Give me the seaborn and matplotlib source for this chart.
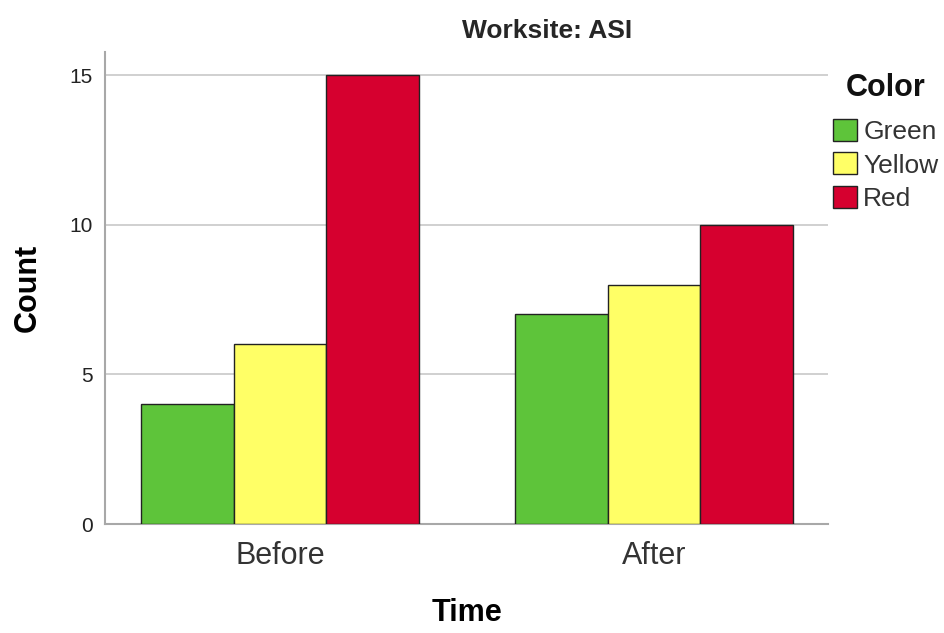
import pandas as pd
import matplotlib
matplotlib.use("Agg")
import matplotlib.pyplot as plt
import seaborn as sns

# data
times = ["Before", "After"]
colors = ["Green", "Yellow", "Red"]
counts_green = [4, 7]
counts_yellow = [6, 8]
counts_red = [15, 10]

palette = {"Green": "#5EC43A", "Yellow": "#FFFF66", "Red": "#D6002F"}

rows = []
for i, t in enumerate(times):
    rows.append({"Time": t, "Color": "Green", "Count": counts_green[i]})
    rows.append({"Time": t, "Color": "Yellow", "Count": counts_yellow[i]})
    rows.append({"Time": t, "Color": "Red", "Count": counts_red[i]})
df = pd.DataFrame(rows)

sns.set_style("white")
plt.rcParams['font.family'] = ['Liberation Sans', 'DejaVu Sans']

W, H = 944, 633
fig = plt.figure(figsize=(W / 100, H / 100), dpi=100)
ax = fig.add_axes([105 / W, 1 - 524 / H, (828 - 105) / W, (524 - 52) / H])

sns.barplot(data=df, x="Time", y="Count", hue="Color", order=times,
            hue_order=colors, palette=palette, width=0.742,
            edgecolor="#222222", linewidth=1.0, saturation=1, ax=ax, zorder=3)

ax.set_xlim(-0.468, 1.465)
ax.set_ylim(0, 15.77)
ax.set_yticks([0, 5, 10, 15])
ax.yaxis.grid(True, color="#c8c8c8", linewidth=1.2, zorder=0)
ax.set_axisbelow(True)
for s in ["top", "right"]:
    ax.spines[s].set_visible(False)
for s in ["left", "bottom"]:
    ax.spines[s].set_color("#a8a8a8")
    ax.spines[s].set_linewidth(1.5)
ax.tick_params(axis="y", length=0, labelsize=15, pad=9, labelcolor="#222222")
ax.tick_params(axis="x", length=0, labelsize=22, pad=12, labelcolor="#333333")

ax.set_xlabel("Time", fontsize=22, fontweight="bold", labelpad=20, color="black")
ax.set_ylabel("Count", fontsize=22, fontweight="bold", labelpad=19, color="black")

fig.text(547 / W, 1 - 38 / H, "Worksite: ASI", ha="center", va="baseline",
         fontsize=19, fontweight="bold")

# legend title drawn separately so its spacing can be matched
fig.text(846 / W, 1 - 96 / H, "Color", ha="left", va="baseline",
         fontsize=22, fontweight="bold", color="#111111")
leg = ax.legend(loc="center left", bbox_to_anchor=(833 / W, 1 - 165 / H),
                bbox_transform=fig.transFigure, frameon=False, fontsize=19,
                handlelength=0.9, handleheight=0.9, handletextpad=0.25,
                labelspacing=0.33, borderaxespad=0, borderpad=0)
for t in leg.get_texts():
    t.set_color("#333333")

fig.savefig("out.png", dpi=100)
